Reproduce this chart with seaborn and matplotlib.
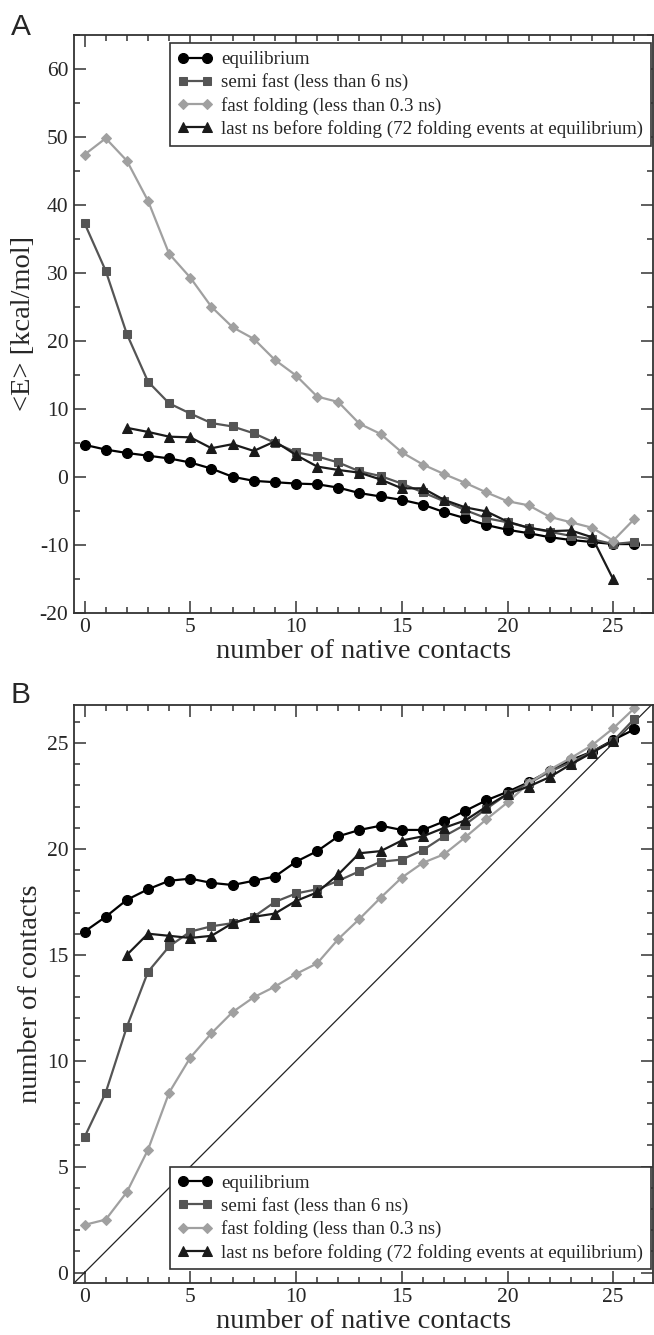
import numpy as np
import pandas as pd
import matplotlib
matplotlib.use("Agg")
import matplotlib.pyplot as plt
from matplotlib.ticker import MultipleLocator
import seaborn as sns

# ---- data -------------------------------------------------------------
x_all = list(range(27))
x_last_ns = list(range(2, 26))

# Panel A: mean energy <E> [kcal/mol] vs number of native contacts
energy_equilibrium = [4.7, 4.0, 3.5, 3.1, 2.7, 2.1, 1.2, 0.0, -0.6, -0.8, -1.0, -1.1,
                      -1.6, -2.4, -2.9, -3.4, -4.1, -5.2, -6.1, -7.1, -7.8, -8.3,
                      -8.9, -9.3, -9.6, -9.9, -9.9]
energy_semi_fast = [37.3, 30.3, 21.0, 14.0, 10.8, 9.3, 7.9, 7.4, 6.4, 5.0, 3.6, 3.0,
                    2.1, 0.8, 0.1, -1.0, -2.3, -3.6, -4.9, -6.1, -6.7, -7.5,
                    -8.1, -8.7, -9.2, -9.9, -9.6]
energy_fast = [47.4, 49.8, 46.5, 40.6, 32.8, 29.3, 25.0, 22.0, 20.3, 17.2, 14.9, 11.8,
               11.0, 7.8, 6.3, 3.6, 1.8, 0.4, -0.9, -2.3, -3.6, -4.2,
               -5.9, -6.7, -7.5, -9.4, -6.2]
energy_last_ns = [7.2, 6.6, 5.9, 5.8, 4.2, 4.8, 3.8, 5.2, 3.2, 1.5,
                  1.0, 0.6, -0.4, -1.7, -1.7, -3.4, -4.5, -5.1, -6.6, -7.5,
                  -8.0, -7.9, -8.9, -15.1]

# Panel B: total number of contacts vs number of native contacts
contacts_equilibrium = [16.1, 16.8, 17.6, 18.1, 18.5, 18.6, 18.4, 18.3, 18.5, 18.7,
                        19.4, 19.9, 20.6, 20.9, 21.1, 20.9, 20.9, 21.3, 21.8, 22.3,
                        22.7, 23.15, 23.7, 24.2, 24.6, 25.15, 25.65]
contacts_semi_fast = [6.4, 8.5, 11.6, 14.2, 15.4, 16.1, 16.35, 16.5, 16.8, 17.5,
                      17.9, 18.1, 18.5, 18.95, 19.4, 19.5, 19.95, 20.6, 21.15, 21.9,
                      22.6, 23.1, 23.65, 24.1, 24.6, 25.1, 26.15]
contacts_fast = [2.25, 2.5, 3.8, 5.8, 8.5, 10.15, 11.3, 12.3, 13.0, 13.5,
                 14.1, 14.6, 15.75, 16.7, 17.7, 18.65, 19.35, 19.75, 20.55, 21.4,
                 22.2, 23.1, 23.75, 24.3, 24.9, 25.7, 26.65]
contacts_last_ns = [15.0, 16.0, 15.9, 15.8, 15.9, 16.5, 16.8, 16.95, 17.55, 17.95,
                    18.8, 19.8, 19.9, 20.4, 20.6, 21.0, 21.35, 22.0, 22.6, 22.95,
                    23.4, 24.0, 24.55, 25.1]

series_labels = [
    "equilibrium",
    "semi fast (less than 6 ns)",
    "fast folding (less than 0.3 ns)",
    "last ns before folding (72 folding events at equilibrium)",
]

x_ticks = [0, 5, 10, 15, 20, 25]
energy_ticks = [-20, -10, 0, 10, 20, 30, 40, 50, 60]
contact_ticks = [0, 5, 10, 15, 20, 25]

# ---- styling ----------------------------------------------------------
sns.set_theme(style="ticks")
plt.rcParams["font.family"] = ["Liberation Serif", "DejaVu Serif"]
plt.rcParams["axes.edgecolor"] = "#333333"
plt.rcParams["axes.linewidth"] = 1.3
plt.rcParams["axes.facecolor"] = "white"
plt.rcParams["axes.unicode_minus"] = False

styles = [
    dict(color="#000000", marker="o", markersize=7.2),
    dict(color="#555555", marker="s", markersize=6.2),
    dict(color="#a0a0a0", marker="D", markersize=5.4),
    dict(color="#1a1a1a", marker="^", markersize=6.8),
]

W, H = 654, 1335
fig = plt.figure(figsize=(W / 100, H / 100), dpi=100)


def fig_rect(left, top, right, bottom):
    return [left / W, 1 - bottom / H, (right - left) / W, (bottom - top) / H]


ax_a = fig.add_axes(fig_rect(74, 35, 653, 612.7))
ax_b = fig.add_axes(fig_rect(74, 705, 653, 1282.7))


def draw_series(ax, xs_list, ys_list):
    for xs, ys, st, lab in zip(xs_list, ys_list, styles, series_labels):
        df = pd.DataFrame({"x": xs, "y": ys})
        sns.lineplot(data=df, x="x", y="y", ax=ax, color=st["color"],
                     marker=st["marker"], markersize=st["markersize"],
                     markeredgecolor=st["color"], markerfacecolor=st["color"],
                     linewidth=1.6, label=lab, sort=False, estimator=None)


def style_axes(ax, xlabel, ylabel, yticks, ymajor, yminor, ylim):
    ax.set_xlim(-0.5, 26.88)
    ax.set_ylim(*ylim)
    ax.set_xticks(x_ticks)
    ax.set_yticks(yticks)
    ax.xaxis.set_major_locator(MultipleLocator(5))
    ax.xaxis.set_minor_locator(MultipleLocator(1))
    ax.yaxis.set_major_locator(MultipleLocator(ymajor))
    ax.yaxis.set_minor_locator(MultipleLocator(yminor))
    ax.tick_params(which="both", direction="in", top=True, right=True,
                   color="#333333", width=1.1, labelsize=15.5, pad=4)
    ax.tick_params(which="major", length=8.5)
    ax.tick_params(which="minor", length=4.5)
    ax.set_xlabel(xlabel, fontsize=20.5, labelpad=1)
    ax.set_ylabel(ylabel, fontsize=20.5, labelpad=3)
    for sp in ax.spines.values():
        sp.set_visible(True)
        sp.set_color("#333333")


def add_legend(ax, loc, anchor):
    leg = ax.legend(loc=loc, bbox_to_anchor=anchor, bbox_transform=fig.transFigure,
                    borderaxespad=0, numpoints=2, fontsize=13.7, frameon=True,
                    fancybox=False, framealpha=1, edgecolor="#333333",
                    handlelength=1.85, handletextpad=0.45, borderpad=0.4,
                    labelspacing=0.28)
    leg.get_frame().set_linewidth(1.2)


# Panel A
draw_series(ax_a, [x_all, x_all, x_all, x_last_ns],
            [energy_equilibrium, energy_semi_fast, energy_fast, energy_last_ns])
style_axes(ax_a, "number of native contacts", "<E> [kcal/mol]",
           energy_ticks, 10, 5, (-20, 65))
add_legend(ax_a, "upper right", (651 / W, 1 - 43.3 / H))

# Panel B
ax_b.plot([-0.5, 26.88], [-0.5, 26.88], color="#222222", linewidth=0.9, zorder=1)
draw_series(ax_b, [x_all, x_all, x_all, x_last_ns],
            [contacts_equilibrium, contacts_semi_fast, contacts_fast, contacts_last_ns])
style_axes(ax_b, "number of native contacts", "number of contacts",
           contact_ticks, 5, 1, (-0.48, 26.8))
add_legend(ax_b, "lower right", (651 / W, 1 - 1269.3 / H))

# Panel letters
fig.text(11 / W, 1 - 35 / H, "A", fontsize=21.5, family=["Liberation Sans", "DejaVu Sans"],
         va="baseline", ha="left")
fig.text(11 / W, 1 - 703.3 / H, "B", fontsize=21.5, family=["Liberation Sans", "DejaVu Sans"],
         va="baseline", ha="left")

fig.savefig("out.png", dpi=100)
